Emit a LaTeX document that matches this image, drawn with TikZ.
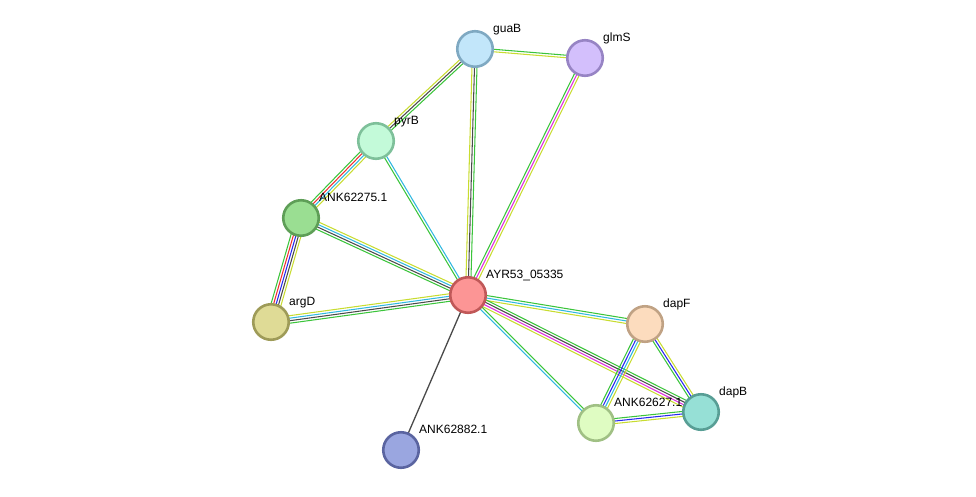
\documentclass[tikz,border=0pt]{standalone}
\usepackage{fontspec}
\setmainfont{Liberation Sans}
\usetikzlibrary{calc}
\definecolor{cG}{HTML}{3BC43B}
\definecolor{cR}{HTML}{F03030}
\definecolor{cB}{HTML}{2828F0}
\definecolor{cK}{HTML}{4A4A4A}
\definecolor{cM}{HTML}{E030E0}
\definecolor{cC}{HTML}{30B8E0}
\definecolor{cY}{HTML}{C8DC30}
\newcommand{\strlink}[4]{%
  \foreach \cc [count=\ii from 0] in {#4} {%
    \pgfmathsetmacro\off{(\ii-(#3-1)/2)*2.5}%
    \draw[line width=1.05pt, draw=\cc] ($(#1)!\off pt!90:(#2)$) -- ($(#2)!\off pt!-90:(#1)$);
  }%
}
\tikzset{
  prot/.style={circle, minimum size=35.5pt, inner sep=0pt, line width=2.6pt},
  plabel/.style={anchor=base west, inner sep=0pt, font=\fontsize{12}{14}\selectfont, text=black}
}
\begin{document}
\begin{tikzpicture}[x=1pt,y=-1pt]
\useasboundingbox (0,0) rectangle (976,496);
% node coordinates
\coordinate (guaB) at (475,49);
\coordinate (glmS) at (585,58);
\coordinate (pyrB) at (376,141);
\coordinate (k275) at (301,218);
\coordinate (ayr) at (468,295);
\coordinate (argD) at (271,322);
\coordinate (dapF) at (645,324);
\coordinate (dapB) at (701,412);
\coordinate (k627) at (596,423);
\coordinate (k882) at (401,450);
% edges
\strlink{guaB}{glmS}{2}{cY,cG}
\strlink{pyrB}{guaB}{3}{cG,cK,cY}
\strlink{guaB}{ayr}{3}{cY,cK,cG}
\strlink{glmS}{ayr}{3}{cG,cM,cY}
\strlink{k275}{pyrB}{4}{cY,cC,cR,cG}
\strlink{pyrB}{ayr}{2}{cG,cC}
\strlink{k275}{ayr}{4}{cG,cK,cC,cY}
\strlink{k275}{argD}{5}{cG,cR,cB,cK,cY}
\strlink{argD}{ayr}{4}{cG,cK,cC,cY}
\strlink{ayr}{dapF}{3}{cY,cC,cG}
\strlink{ayr}{dapB}{4}{cY,cM,cK,cG}
\strlink{ayr}{k627}{2}{cC,cG}
\draw[line width=1.3pt, draw=cK] (ayr) -- (k882);
\strlink{dapF}{k627}{4}{cG,cB,cC,cY}
\strlink{dapF}{dapB}{3}{cG,cB,cY}
\strlink{k627}{dapB}{3}{cY,cB,cG}
% nodes
\node[prot, fill={rgb,255:red,194;green,230;blue,250}, draw={rgb,255:red,127;green,169;blue,194}] (nguaB) at (guaB) {};
\node[prot, fill={rgb,255:red,211;green,191;blue,252}, draw={rgb,255:red,151;green,132;blue,196}] (nglmS) at (glmS) {};
\node[prot, fill={rgb,255:red,195;green,250;blue,217}, draw={rgb,255:red,126;green,192;blue,154}] (npyrB) at (pyrB) {};
\node[prot, fill={rgb,255:red,154;green,222;blue,146}, draw={rgb,255:red,94;green,158;blue,87}] (nk275) at (k275) {};
\node[prot, fill={rgb,255:red,252;green,149;blue,149}, draw={rgb,255:red,192;green,88;blue,88}] (nayr) at (ayr) {};
\node[prot, fill={rgb,255:red,223;green,219;blue,150}, draw={rgb,255:red,158;green,155;blue,88}] (nargD) at (argD) {};
\node[prot, fill={rgb,255:red,252;green,220;blue,190}, draw={rgb,255:red,192;green,162;blue,132}] (ndapF) at (dapF) {};
\node[prot, fill={rgb,255:red,150;green,224;blue,214}, draw={rgb,255:red,88;green,158;blue,149}] (ndapB) at (dapB) {};
\node[prot, fill={rgb,255:red,223;green,252;blue,194}, draw={rgb,255:red,160;green,192;blue,132}] (nk627) at (k627) {};
\node[prot, fill={rgb,255:red,154;green,166;blue,224}, draw={rgb,255:red,90;green,100;blue,160}] (nk882) at (k882) {};
% labels
\node[plabel] (lguaB) at ($(guaB)+(18,-17)$) {guaB};
\node[plabel] (lglmS) at ($(glmS)+(18,-17)$) {glmS};
\node[plabel] (lpyrB) at ($(pyrB)+(18,-17)$) {pyrB};
\node[plabel] (lk275) at ($(k275)+(18,-17)$) {ANK62275.1};
\node[plabel] (layr) at ($(ayr)+(18,-17)$) {AYR53\_05335};
\node[plabel] (largD) at ($(argD)+(18,-17)$) {argD};
\node[plabel] (ldapF) at ($(dapF)+(18,-17)$) {dapF};
\node[plabel] (ldapB) at ($(dapB)+(18,-17)$) {dapB};
\node[plabel] (lk627) at ($(k627)+(18,-17)$) {ANK62627.1};
\node[plabel] (lk882) at ($(k882)+(18,-17)$) {ANK62882.1};
\end{tikzpicture}
\end{document}
